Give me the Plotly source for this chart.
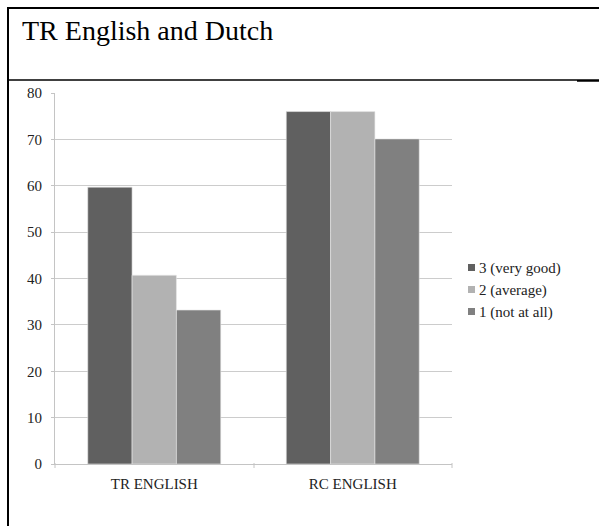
import plotly.graph_objects as go

categories = ["TR ENGLISH", "RC ENGLISH"]
series_names = ["3 (very good)", "2 (average)", "1 (not at all)"]
vals_3 = [59.7, 76.0]
vals_2 = [40.7, 76.0]
vals_1 = [33.2, 70.1]
colors = ["#606060", "#b2b2b2", "#808080"]
y_ticks = [0, 10, 20, 30, 40, 50, 60, 70, 80]

W, H = 599, 526
L, R, T, B = 55, 147, 93, 62
pw, ph = W - L - R, H - T - B

def px(x):
    return (x - L) / pw

def py(y):
    return (H - B - y) / ph

fig = go.Figure()
for name, vals, c in zip(series_names, [vals_3, vals_2, vals_1], colors):
    fig.add_trace(go.Bar(x=categories, y=vals, name=name, showlegend=False,
                         marker=dict(color=c, line=dict(color="#e8e8e8", width=0.6))))

font = "Liberation Serif, Times New Roman, serif"
gray = "#c4c4c4"
shapes = [
    dict(type="line", xref="paper", yref="paper", x0=px(8), x1=px(8), y0=py(7), y1=py(530), line=dict(color="black", width=2)),
    dict(type="line", xref="paper", yref="paper", x0=px(7), x1=px(600), y0=py(8), y1=py(8), line=dict(color="black", width=2)),
    dict(type="line", xref="paper", yref="paper", x0=px(7), x1=px(577), y0=py(80), y1=py(80), line=dict(color="black", width=1.5)),
    dict(type="line", xref="paper", yref="paper", x0=px(577), x1=px(600), y0=py(80.5), y1=py(80.5), line=dict(color="black", width=2.5)),
    dict(type="line", xref="paper", yref="paper", x0=px(254), x1=px(254), y0=py(463), y1=py(468), line=dict(color=gray, width=1)),
    dict(type="line", xref="paper", yref="paper", x0=px(452), x1=px(452), y0=py(463), y1=py(468), line=dict(color=gray, width=1)),
    dict(type="line", xref="paper", yref="paper", x0=px(55), x1=px(55), y0=py(463), y1=py(468), line=dict(color=gray, width=1)),
]
annotations = [
    dict(text="TR English and Dutch", xref="paper", yref="paper", x=px(20), y=py(30),
         xanchor="left", yanchor="middle", showarrow=False,
         font=dict(family=font, size=28, color="black")),
]
# manual legend
leg_y = [268, 290, 312]
for name, c, yy in zip(series_names, colors, leg_y):
    shapes.append(dict(type="rect", xref="paper", yref="paper", x0=px(468), x1=px(475),
                       y0=py(yy - 4), y1=py(yy + 3), fillcolor=c, line=dict(width=0)))
    annotations.append(dict(text=name, xref="paper", yref="paper", x=px(477), y=py(yy),
                            xanchor="left", yanchor="middle", showarrow=False,
                            font=dict(family=font, size=15, color="#222")))

fig.update_layout(
    width=W, height=H,
    margin=dict(l=L, r=R, t=T, b=B),
    paper_bgcolor="white", plot_bgcolor="white",
    barmode="group", bargap=0.33, bargroupgap=0,
    font=dict(family=font, size=15, color="#222"),
    showlegend=False,
    xaxis=dict(showgrid=False, showline=True, linecolor=gray, linewidth=1,
               ticks="", ticklabelstandoff=6,
               tickfont=dict(family=font, size=15, color="#222")),
    yaxis=dict(range=[0, 80], tickvals=y_ticks, showgrid=True, gridcolor="#cccccc", gridwidth=1,
               showline=True, linecolor=gray, linewidth=1, ticks="outside", ticklen=3,
               tickcolor=gray, zeroline=False, ticklabelstandoff=6,
               tickfont=dict(family=font, size=15, color="#222")),
    shapes=shapes,
    annotations=annotations,
)
fig.write_html("out.html")
